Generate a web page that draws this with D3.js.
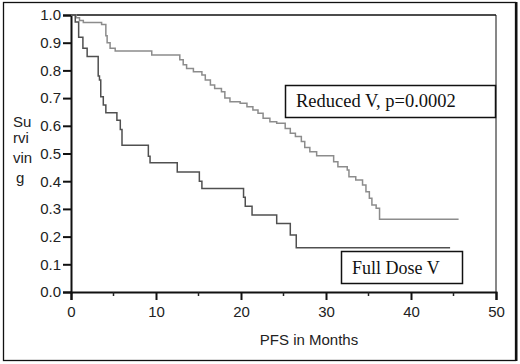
<html>
<head>
  <title>PFS survival</title>
  <script src="https://d3js.org/d3.v7.min.js"></script>
  <style>
    body { margin: 0; background: #fff; }
  </style>
</head>
<body>
  <script>
    var w = 520;
    var h = 364;

    // step curves: [month, surviving fraction] after each drop
    var fullDose = [[0, 1.0], [0.5, 0.975], [0.9, 0.92], [1.4, 0.88], [1.9, 0.85], [3.2, 0.78], [3.35, 0.765],
      [3.5, 0.705], [3.8, 0.675], [4.1, 0.647], [5.4, 0.62], [5.8, 0.587], [6.0, 0.53], [9.1, 0.49],
      [9.3, 0.467], [12.5, 0.433], [15.1, 0.40], [15.4, 0.374], [20.3, 0.342], [20.5, 0.31], [21.3, 0.278],
      [24.2, 0.247], [25.8, 0.206], [26.5, 0.16], [44.6, 0.16]];
    var reducedDose = [[0, 1.0], [0.6, 0.99], [1.0, 0.98], [1.45, 0.973], [3.6, 0.966], [4.1, 0.925],
      [4.25, 0.9], [4.6, 0.88], [5.2, 0.87], [9.5, 0.856], [12.8, 0.838], [13.2, 0.82], [13.6, 0.807],
      [14.4, 0.795], [15.4, 0.783], [15.8, 0.765], [16.4, 0.747], [16.9, 0.735], [17.7, 0.723], [18.1, 0.70],
      [18.7, 0.687], [19.9, 0.681], [20.7, 0.669], [21.4, 0.657], [22.0, 0.645], [22.6, 0.627], [23.4, 0.615],
      [24.2, 0.609], [25.2, 0.59], [25.8, 0.573], [26.4, 0.561], [27.1, 0.543], [27.5, 0.522], [28.1, 0.506],
      [28.9, 0.492], [30.9, 0.47], [31.4, 0.452], [32.5, 0.44], [32.7, 0.416], [33.5, 0.404], [34.3, 0.386],
      [34.7, 0.362], [35.1, 0.338], [35.4, 0.314], [35.9, 0.302], [36.3, 0.263], [45.6, 0.263]];
    var xTicks = [0, 10, 20, 30, 40, 50];
    var xMinor = [5, 15, 25, 35, 45];
    var yTicks = [0, 0.1, 0.2, 0.3, 0.4, 0.5, 0.6, 0.7, 0.8, 0.9, 1.0];
    var yLabelLines = ["Su", "rvi", "vin", "g"];
    var legendReduced = "Reduced V, p=0.0002";
    var legendFull = "Full Dose V";

    // plot edges (not "top": that name is taken by window.top)
    var pLeft = 71, pRight = 496, pTop = 15, pBottom = 292;
    var x = d3.scaleLinear().domain([0, 50]).range([pLeft, pRight]);
    var y = d3.scaleLinear().domain([0, 1]).range([pBottom, pTop]);

    var svg = d3.select("body").append("svg").attr("width", w).attr("height", h);
    var sans = "Liberation Sans, Arial, sans-serif";
    var serif = "Liberation Serif, Times New Roman, serif";

    // outer frame
    svg.append("rect").attr("x", 3.5).attr("y", 2.5).attr("width", 512).attr("height", 358)
      .attr("fill", "none").attr("stroke", "#111").attr("stroke-width", 1.3);
    svg.append("line").attr("x1", 516.5).attr("x2", 516.5).attr("y1", 2).attr("y2", 361)
      .attr("stroke", "#111").attr("stroke-width", 2);

    // plot box top + right
    svg.append("line").attr("x1", pLeft).attr("x2", pRight).attr("y1", pTop).attr("y2", pTop)
      .attr("stroke", "#111").attr("stroke-width", 1.5);
    svg.append("line").attr("x1", pRight).attr("x2", pRight).attr("y1", pTop).attr("y2", pBottom)
      .attr("stroke", "#111").attr("stroke-width", 1);

    // axes
    var yAxis = d3.axisLeft(y).tickValues(yTicks).tickFormat(d3.format(".1f")).tickSizeOuter(0).tickSize(8).tickPadding(2);
    var gy = svg.append("g").attr("transform", "translate(" + pLeft + ",0)").call(yAxis);
    var xAxis = d3.axisBottom(x).tickValues(xTicks).tickFormat(d3.format("d")).tickSizeOuter(0).tickSize(8).tickPadding(6);
    var gx = svg.append("g").attr("transform", "translate(0," + pBottom + ")").call(xAxis);
    gx.selectAll(".minor").data(xMinor).enter().append("line").attr("class", "minor")
      .attr("x1", function(d){return x(d);}).attr("x2", function(d){return x(d);})
      .attr("y1", 0).attr("y2", 4).attr("stroke", "#222").attr("stroke-width", 1.5);
    [gx, gy].forEach(function(g){
      g.select(".domain").attr("stroke", "#111").attr("stroke-width", 2);
      g.selectAll(".tick line").attr("stroke", "#111").attr("stroke-width", 2);
      g.selectAll(".tick text").attr("fill", "#222").style("font-family", sans).style("font-size", "15px");
    });

    // curves
    var line = d3.line().x(function(d){return x(d[0]);}).y(function(d){return y(d[1]);}).curve(d3.curveStepAfter);
    svg.append("path").datum(reducedDose).attr("d", line).attr("fill", "none")
      .attr("stroke", "#8c8c8c").attr("stroke-width", 1.5);
    svg.append("path").datum(fullDose).attr("d", line).attr("fill", "none")
      .attr("stroke", "#505050").attr("stroke-width", 1.5);

    // axis titles
    svg.append("text").attr("x", 309).attr("y", 345).attr("text-anchor", "middle")
      .style("font-family", sans).style("font-size", "15px").attr("fill", "#222")
      .text("PFS in Months");
    var ylab = svg.append("text").style("font-family", sans)
      .style("font-size", "15px").attr("fill", "#222");
    var yLabelY = [127, 143, 163, 183];
    yLabelLines.forEach(function(t, i){
      ylab.append("tspan").attr("x", i == 3 ? 16 : 13).attr("y", yLabelY[i]).text(t);
    });

    // legend boxes
    svg.append("rect").attr("x", 285.5).attr("y", 85.5).attr("width", 210).attr("height", 32)
      .attr("fill", "#fff").attr("stroke", "#111").attr("stroke-width", 1.5);
    svg.append("text").attr("x", 296).attr("y", 107).style("font-family", serif)
      .style("font-size", "18.5px").attr("fill", "#111").text(legendReduced);
    svg.append("rect").attr("x", 341.5).attr("y", 251.5).attr("width", 121).attr("height", 32)
      .attr("fill", "#fff").attr("stroke", "#111").attr("stroke-width", 1.5);
    svg.append("text").attr("x", 352).attr("y", 274).style("font-family", serif)
      .style("font-size", "18px").attr("fill", "#111").text(legendFull);
  </script>
</body>
</html>
